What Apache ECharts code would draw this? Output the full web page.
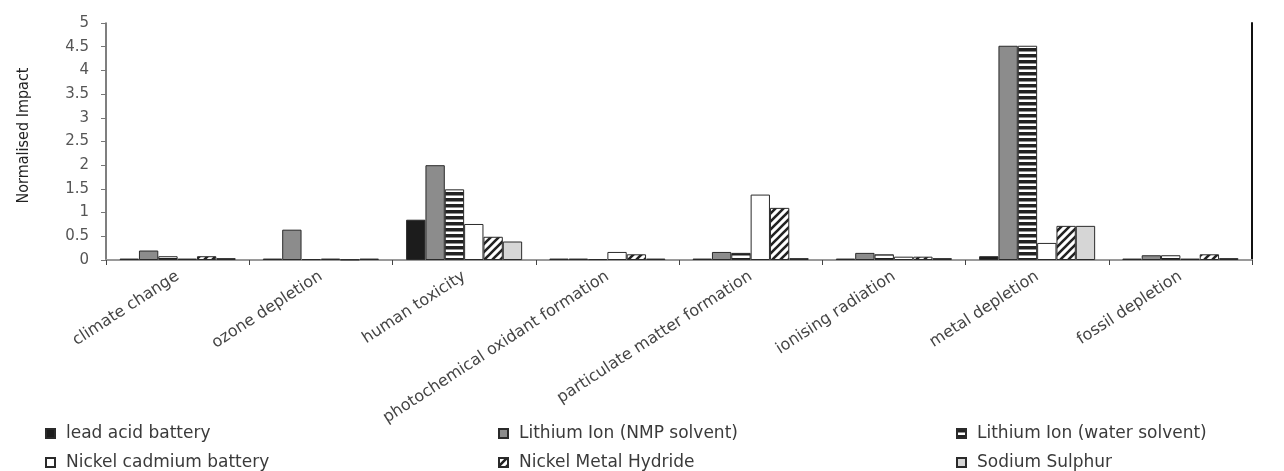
<!DOCTYPE html>
<html>
<head>
<meta charset="utf-8">
<script src="https://cdn.jsdelivr.net/npm/echarts@6/dist/echarts.min.js"></script>
<style>
html,body{margin:0;padding:0;background:#fff;}
#chart{width:1284px;height:471px;}
</style>
</head>
<body>
<div id="chart"></div>
<script>
// ---- data ----
const categories = ['climate change','ozone depletion','human toxicity','photochemical oxidant formation','particulate matter formation','ionising radiation','metal depletion','fossil depletion'];
const seriesNames = ['lead acid battery','Lithium Ion (NMP solvent)','Lithium Ion (water solvent)','Nickel cadmium battery','Nickel Metal Hydride','Sodium Sulphur'];
const leadAcid   = [0.03, 0.03, 0.85, 0.03, 0.03, 0.03, 0.08, 0.03];
const liIonNMP   = [0.20, 0.64, 2.00, 0.03, 0.17, 0.15, 4.52, 0.10];
const liIonWater = [0.08, 0.02, 1.49, 0.02, 0.15, 0.12, 4.52, 0.10];
const niCd       = [0.03, 0.03, 0.76, 0.17, 1.38, 0.07, 0.36, 0.03];
const niMH       = [0.08, 0.01, 0.49, 0.12, 1.10, 0.07, 0.72, 0.12];
const naS        = [0.04, 0.03, 0.39, 0.03, 0.04, 0.04, 0.72, 0.04];
const yTicks = {min: 0, max: 5, interval: 0.5};

// ---- patterns ----
function stripePattern(){
  const c = document.createElement('canvas'); c.width = 6; c.height = 6;
  const g = c.getContext('2d');
  g.fillStyle = '#ffffff'; g.fillRect(0,0,6,6);
  g.fillStyle = '#222222'; g.fillRect(0,0,6,3.5);
  return c;
}
function hatchPattern(){
  const s = 8;
  const c = document.createElement('canvas'); c.width = s; c.height = s;
  const g = c.getContext('2d');
  g.fillStyle = '#ffffff'; g.fillRect(0,0,s,s);
  g.strokeStyle = '#222222'; g.lineWidth = 2.6;
  g.beginPath();
  g.moveTo(-1, s+1); g.lineTo(s+1, -1);
  g.moveTo(-1, 1); g.lineTo(1, -1);
  g.moveTo(s-1, s+1); g.lineTo(s+1, s-1);
  g.stroke();
  return c;
}
const fills = [
  '#1c1c1c',
  '#8c8c8c',
  {image: stripePattern(), repeat: 'repeat'},
  '#ffffff',
  {image: hatchPattern(), repeat: 'repeat'},
  '#d6d6d6'
];
const values = [leadAcid, liIonNMP, liIonWater, niCd, niMH, naS];

const series = values.map((v, i) => ({
  name: seriesNames[i],
  type: 'bar',
  data: v,
  barGap: '0%',
  barCategoryGap: '19%',
  itemStyle: {color: fills[i], borderColor: '#2a2a2a', borderWidth: 1},
  emphasis: {disabled: true}
}));

// legend placement: 3 columns x 2 rows
const legendLefts = [45, 498, 956, 45, 498, 956];
const legendTops  = [425, 425, 425, 454, 454, 454];
const legendText = {fontFamily: 'DejaVu Sans', fontSize: 17, color: '#3a3a3a', padding: [0, 0, 0, 6]};
const legends = seriesNames.map((n, i) => ({
  left: legendLefts[i], top: legendTops[i],
  itemWidth: 9, itemHeight: 9, icon: 'rect',
  textStyle: legendText, data: [n], selectedMode: false, padding: 0
}));

const chart = echarts.init(document.getElementById('chart'), null, {renderer: 'canvas'});
chart.setOption({
  animation: false,
  backgroundColor: '#ffffff',
  grid: {left: 106, right: 32, top: 23, bottom: 211, containLabel: false},
  legend: legends,
  xAxis: [{
    type: 'category',
    data: categories,
    axisLine: {lineStyle: {color: '#888888', width: 1.5}},
    axisTick: {show: true, length: 5, lineStyle: {color: '#444444'}},
    axisLabel: {rotate: 33, margin: 15, fontFamily: 'DejaVu Sans', fontSize: 16, color: '#444444', interval: 0}
  }, {
    type: 'category',
    data: categories,
    position: 'top',
    axisLine: {show: true, lineStyle: {color: '#9a9a9a', width: 2}},
    axisTick: {show: false},
    axisLabel: {show: false}
  }],
  yAxis: [{
    type: 'value',
    min: yTicks.min, max: yTicks.max, interval: yTicks.interval,
    name: 'Normalised Impact',
    nameLocation: 'middle',
    nameGap: 74,
    nameTextStyle: {fontFamily: 'DejaVu Sans Condensed, Liberation Sans Narrow, sans-serif', fontSize: 16, color: '#222222', padding: [0, 0, 0, 12]},
    axisLine: {show: true, lineStyle: {color: '#555555', width: 1.5}},
    axisTick: {show: true, length: 5, lineStyle: {color: '#777777'}},
    axisLabel: {margin: 17, fontFamily: 'DejaVu Sans', fontSize: 15, color: '#555555'},
    splitLine: {show: false}
  }, {
    type: 'value',
    position: 'right',
    min: yTicks.min, max: yTicks.max, interval: yTicks.interval,
    axisLine: {show: true, lineStyle: {color: '#111111', width: 2}},
    axisTick: {show: false},
    axisLabel: {show: false},
    splitLine: {show: false}
  }],
  series: series
});
</script>
</body>
</html>
